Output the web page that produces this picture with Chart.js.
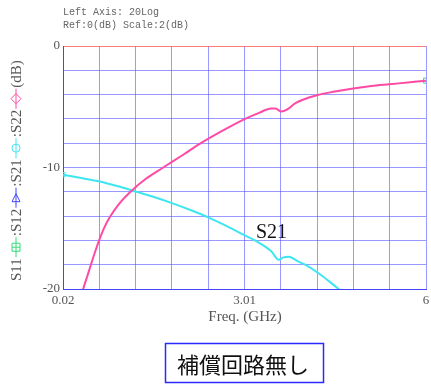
<!DOCTYPE html>
<html>
<head>
<meta charset="utf-8">
<script src="https://cdn.jsdelivr.net/npm/chart.js@4"></script>
<style>
  html, body { margin: 0; padding: 0; background: #fff; }
  #wrap { width: 431px; height: 385px; position: relative; }
</style>
</head>
<body>
<div id="wrap"><canvas id="chart"></canvas></div>
<script>
// S22 (magenta): freq in GHz, dB
const s22Freq = [0.30, 0.353, 0.42, 0.48, 0.545, 0.615, 0.70, 0.79, 0.95, 1.12, 1.38, 1.67, 2.00, 2.29, 2.62, 3.02, 3.25, 3.45, 3.52, 3.62, 3.72, 3.85, 4.20, 4.50, 4.80, 5.10, 5.40, 5.70, 6.00];
const s22dB   = [-21.3, -20, -18.95, -18, -17, -16, -14.95, -14.1, -12.95, -12.05, -10.95, -10, -8.95, -8, -7.05, -6, -5.5, -5.15, -5.15, -5.4, -5.2, -4.7, -4.05, -3.75, -3.5, -3.3, -3.15, -3.0, -2.85];

// S21 (cyan)
const s21Freq = [0.02, 0.30, 0.626, 0.93, 1.228, 1.53, 1.827, 2.12, 2.412, 2.71, 3.00, 3.25, 3.45, 3.575, 3.65, 3.74, 3.90, 4.01, 4.23, 4.40, 4.56, 4.70];
const s21dB   = [-10.6, -10.85, -11.15, -11.55, -12.0, -12.45, -12.95, -13.5, -14.1, -14.8, -15.55, -16.2, -16.9, -17.6, -17.4, -17.35, -17.75, -18.0, -18.7, -19.35, -20, -20.6];

// S11 marker at the right edge
const s11Freq = [6.00];
const s11dB = [-2.85];

const freqMin = 0.02, freqMax = 6.0, freqDivs = 10;
const xTickLabels = ['0.02', '3.01', '6'];
const yTickLabels = [0, -10, -20];

const headerLines = ['Left Axis: 20Log', 'Ref:0(dB) Scale:2(dB)'];
const xTitle = 'Freq. (GHz)';
const curveLabel = 'S21';
const boxText = '補償回路無し';

const gridBlue = 'rgba(70,70,255,0.55)';
const refRed = 'rgba(255,90,90,0.8)';
const magenta = '#ff4aa5';
const cyan = '#3ee6f2';
const green = '#33dd77';
const blue = '#4444ff';
const textGray = '#555';
const serif = '"Liberation Serif", "DejaVu Serif", serif';

function toPoints(xs, ys) {
    return xs.map((x, i) => ({ x: x, y: ys[i] }));
}

const textPlugin = {
    id: 'textPlugin',
    afterDraw(chart) {
        const ctx = chart.ctx;
        const xs = chart.scales.x;
        const area = chart.chartArea;
        ctx.save();

        // header
        ctx.fillStyle = '#666';
        ctx.font = '10px "Liberation Mono", "DejaVu Sans Mono", monospace';
        ctx.textBaseline = 'middle';
        ctx.textAlign = 'left';
        ctx.fillText(headerLines[0], 63, 12);
        ctx.fillText(headerLines[1], 63, 25);

        // x tick labels at first, middle and last division
        ctx.font = '13px ' + serif;
        ctx.fillStyle = textGray;
        ctx.textAlign = 'center';
        const tickVals = [freqMin, freqMin + (freqMax - freqMin) / 2, freqMax];
        tickVals.forEach((v, i) => {
            ctx.fillText(xTickLabels[i], xs.getPixelForValue(v), area.bottom + 12);
        });

        // x title
        ctx.font = '15px ' + serif;
        ctx.fillText(xTitle, 245, 317);

        // curve label
        ctx.fillStyle = '#111';
        ctx.font = '20px ' + serif;
        ctx.textAlign = 'left';
        ctx.textBaseline = 'alphabetic';
        ctx.fillText(curveLabel, 256, 238);

        // box
        ctx.strokeStyle = '#2a2aff';
        ctx.lineWidth = 1.5;
        ctx.strokeRect(165.5, 343.5, 158, 39);
        ctx.fillStyle = '#111';
        ctx.font = '22px "Noto Sans CJK JP", sans-serif';
        ctx.textAlign = 'center';
        ctx.textBaseline = 'middle';
        ctx.fillText(boxText, 243, 365);

        // rotated y title with colored markers
        drawYTitle(ctx);
        ctx.restore();
    }
};

function drawMarker(ctx, x, color, shape) {
    const w = 22;
    ctx.strokeStyle = color;
    ctx.lineWidth = 1;
    ctx.beginPath();
    ctx.moveTo(x + 1, 0);
    ctx.lineTo(x + w - 1, 0);
    ctx.stroke();
    const cx = x + w / 2, r = 4;
    ctx.beginPath();
    if (shape === 'square') {
        ctx.rect(cx - r, -r, 2 * r, 2 * r);
        ctx.moveTo(cx, -r); ctx.lineTo(cx, r);
    } else if (shape === 'triangle') {
        ctx.moveTo(cx - r, -r); ctx.lineTo(cx + r, 0); ctx.lineTo(cx - r, r); ctx.closePath();
    } else if (shape === 'circle') {
        ctx.arc(cx, 0, r, 0, Math.PI * 2);
    } else {
        ctx.moveTo(cx - r - 1, 0); ctx.lineTo(cx, -r - 1); ctx.lineTo(cx + r + 1, 0); ctx.lineTo(cx, r + 1); ctx.closePath();
    }
    ctx.stroke();
    return w;
}

function drawYTitle(ctx) {
    const parts = [
        ['S11', green, 'square'],
        [':S12', blue, 'triangle'],
        [':S21', cyan, 'circle'],
        [':S22', magenta, 'diamond'],
        ['(dB)', null, null]
    ];
    ctx.save();
    ctx.translate(16, 281);
    ctx.rotate(-Math.PI / 2);
    ctx.font = '15px ' + serif;
    ctx.fillStyle = textGray;
    ctx.textAlign = 'left';
    ctx.textBaseline = 'middle';
    let x = 0;
    parts.forEach(p => {
        ctx.fillText(p[0], x, 1);
        x += ctx.measureText(p[0]).width;
        if (p[1]) x += drawMarker(ctx, x, p[1], p[2]);
    });
    ctx.restore();
}

new Chart(document.getElementById('chart'), {
    type: 'line',
    data: {
        datasets: [
            {
                label: 'S22',
                data: toPoints(s22Freq, s22dB),
                borderColor: magenta,
                borderWidth: 2,
                pointRadius: 0,
                cubicInterpolationMode: 'monotone'
            },
            {
                label: 'S21',
                data: toPoints(s21Freq, s21dB),
                borderColor: cyan,
                borderWidth: 2,
                pointRadius: s21Freq.map((f, i) => i === 0 ? 3 : 0),
                pointStyle: 'rect',
                pointBackgroundColor: 'rgba(0,0,0,0)',
                pointBorderColor: cyan,
                pointBorderWidth: 1,
                cubicInterpolationMode: 'monotone'
            },
            {
                label: 'S11',
                data: toPoints(s11Freq, s11dB),
                showLine: false,
                pointRadius: 3.5,
                pointStyle: 'rect',
                pointBackgroundColor: 'rgba(0,0,0,0)',
                pointBorderColor: green,
                pointBorderWidth: 1
            }
        ]
    },
    options: {
        responsive: true,
        maintainAspectRatio: false,
        animation: false,
        layout: { padding: { top: 46, right: 3, left: 0, bottom: 0 } },
        plugins: {
            legend: { display: false },
            tooltip: { enabled: false }
        },
        scales: {
            x: {
                type: 'linear',
                min: freqMin,
                max: freqMax,
                afterBuildTicks: function(scale) {
                    const step = (freqMax - freqMin) / freqDivs;
                    const ticks = [];
                    for (let i = 0; i <= freqDivs; i++) ticks.push({ value: freqMin + i * step });
                    scale.ticks = ticks;
                },
                afterFit: function(scale) { scale.height = 96; },
                ticks: { display: false },
                grid: { color: gridBlue, lineWidth: 1, drawTicks: false },
                border: { color: blue, width: 1 }
            },
            y: {
                min: -20,
                max: 0,
                afterFit: function(scale) { scale.width = 63; },
                ticks: {
                    stepSize: 2,
                    padding: 3,
                    color: textGray,
                    font: { family: serif, size: 13 },
                    callback: function(v) {
                        return yTickLabels.includes(v) ? String(v) : '';
                    }
                },
                grid: {
                    color: function(c) { return c.tick && c.tick.value === 0 ? refRed : gridBlue; },
                    lineWidth: 1,
                    drawTicks: false
                },
                border: { color: blue, width: 1 }
            }
        }
    },
    plugins: [textPlugin]
});
</script>
</body>
</html>
